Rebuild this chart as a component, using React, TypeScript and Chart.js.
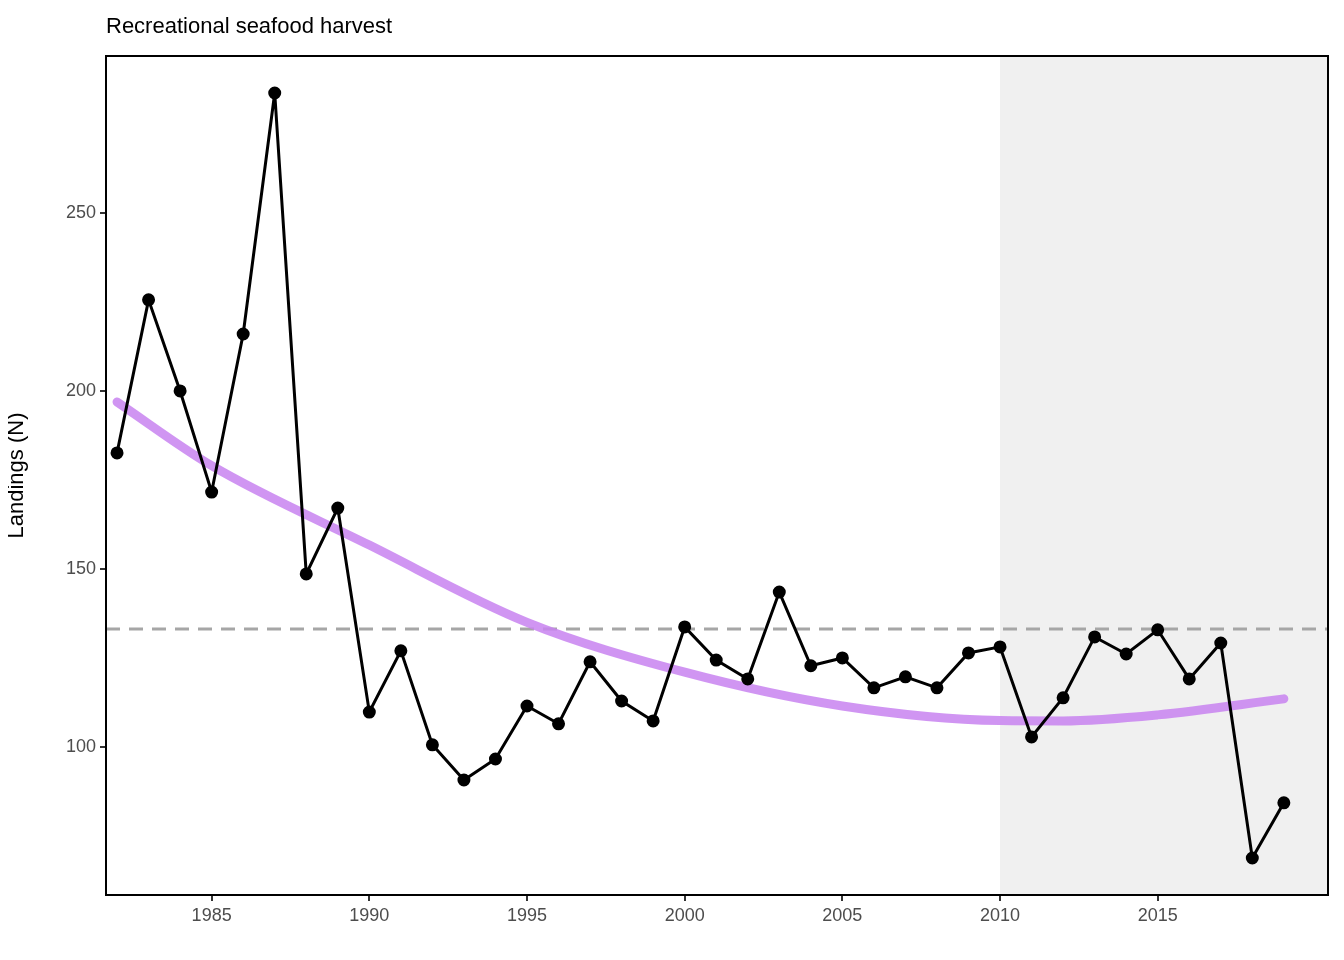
import { useRef, useEffect } from "react";
import { Chart, registerables } from "chart.js";

Chart.register(...registerables);

const years = [
  1982, 1983, 1984, 1985, 1986, 1987, 1988, 1989, 1990, 1991, 1992, 1993, 1994,
  1995, 1996, 1997, 1998, 1999, 2000, 2001, 2002, 2003, 2004, 2005, 2006, 2007,
  2008, 2009, 2010, 2011, 2012, 2013, 2014, 2015, 2016, 2017, 2018, 2019,
];
const landings = [
  182.6, 225.6, 200, 171.6, 216, 283.7, 148.6, 167.1, 109.8, 127, 100.6, 90.7,
  96.6, 111.5, 106.5, 123.9, 112.9, 107.3, 133.7, 124.4, 119.1, 143.5, 122.8,
  125, 116.6, 119.7, 116.6, 126.4, 128.1, 102.8, 113.8, 130.9, 126.1, 132.9,
  119.1, 129.2, 68.8, 84.3,
];
const trendYears = [1982, 1985, 1990, 1995, 2000, 2005, 2010, 2012, 2015, 2019];
const trendValues = [196.9, 179, 156.7, 135, 121, 111.5, 107.4, 107.3, 109, 113.5];
const meanLine = 133.1;
const shadeStart = 2010;
const title = "Recreational seafood harvest";

const backdrop = {
  id: "backdrop",
  beforeDatasetsDraw(chart: Chart) {
    const { ctx, chartArea: a, scales } = chart;
    const x0 = scales.x.getPixelForValue(shadeStart);
    ctx.save();
    ctx.fillStyle = "#f0f0f0";
    ctx.fillRect(x0, a.top, a.right - x0, a.bottom - a.top);
    const y = scales.y.getPixelForValue(meanLine);
    ctx.strokeStyle = "#a6a6a6";
    ctx.lineWidth = 3;
    ctx.setLineDash([14, 9]);
    ctx.beginPath();
    ctx.moveTo(a.left, y);
    ctx.lineTo(a.right, y);
    ctx.stroke();
    ctx.restore();
  },
  afterDraw(chart: Chart) {
    const { ctx, chartArea: a } = chart;
    ctx.save();
    ctx.strokeStyle = "#000";
    ctx.lineWidth = 2;
    ctx.strokeRect(a.left, a.top, a.right - a.left, a.bottom - a.top);
    ctx.fillStyle = "#000";
    ctx.font = "22px Arial, 'Liberation Sans'";
    ctx.textBaseline = "middle";
    ctx.fillText(title, a.left, 27);
    ctx.restore();
  },
};

export default function App() {
  const canvasRef = useRef<HTMLCanvasElement>(null);

  useEffect(() => {
    if (!canvasRef.current) return;
    const font = { family: "Arial, 'Liberation Sans'", size: 18 };
    const chart = new Chart(canvasRef.current, {
      type: "line",
      data: {
        datasets: [
          {
            data: years.map((x, i) => ({ x, y: landings[i] })),
            borderColor: "#000",
            backgroundColor: "#000",
            borderWidth: 3,
            pointRadius: 5,
            tension: 0,
            order: 0,
          },
          {
            data: trendYears.map((x, i) => ({ x, y: trendValues[i] })),
            borderColor: "rgba(200,130,240,0.85)",
            borderWidth: 9,
            pointRadius: 0,
            cubicInterpolationMode: "monotone",
            borderCapStyle: "round",
            order: 1,
          },
        ],
      },
      options: {
        responsive: false,
        animation: false,
        layout: { padding: { top: 56, right: 16, left: 0, bottom: 0 } },
        plugins: { legend: { display: false }, tooltip: { enabled: false } },
        scales: {
          x: {
            type: "linear",
            min: 1981.65,
            max: 2020.4,
            afterBuildTicks: (s: any) => {
              s.ticks = [1985, 1990, 1995, 2000, 2005, 2010, 2015].map((v) => ({ value: v }));
            },
            afterFit: (s: any) => {
              s.height = 65;
            },
            ticks: { color: "#4d4d4d", font, padding: 4, callback: (v: any) => String(v) },
            grid: { drawOnChartArea: false, drawTicks: true, tickLength: 6, color: "#333", lineWidth: 2 },
            border: { display: false },
          },
          y: {
            type: "linear",
            min: 58.4,
            max: 294.1,
            afterBuildTicks: (s: any) => {
              s.ticks = [100, 150, 200, 250].map((v) => ({ value: v }));
            },
            afterFit: (s: any) => {
              s.width = 106;
            },
            ticks: { color: "#4d4d4d", font, padding: 4 },
            grid: { drawOnChartArea: false, drawTicks: true, tickLength: 6, color: "#333", lineWidth: 2 },
            border: { display: false },
            title: { display: true, text: "Landings (N)", color: "#000", font: { ...font, size: 22 }, padding: 4 },
          },
        },
      } as any,
      plugins: [backdrop],
    });
    return () => chart.destroy();
  }, []);

  return (
    <div style={{ margin: -8 }}>
      <canvas ref={canvasRef} width={1344} height={960} style={{ display: "block" }} />
    </div>
  );
}
